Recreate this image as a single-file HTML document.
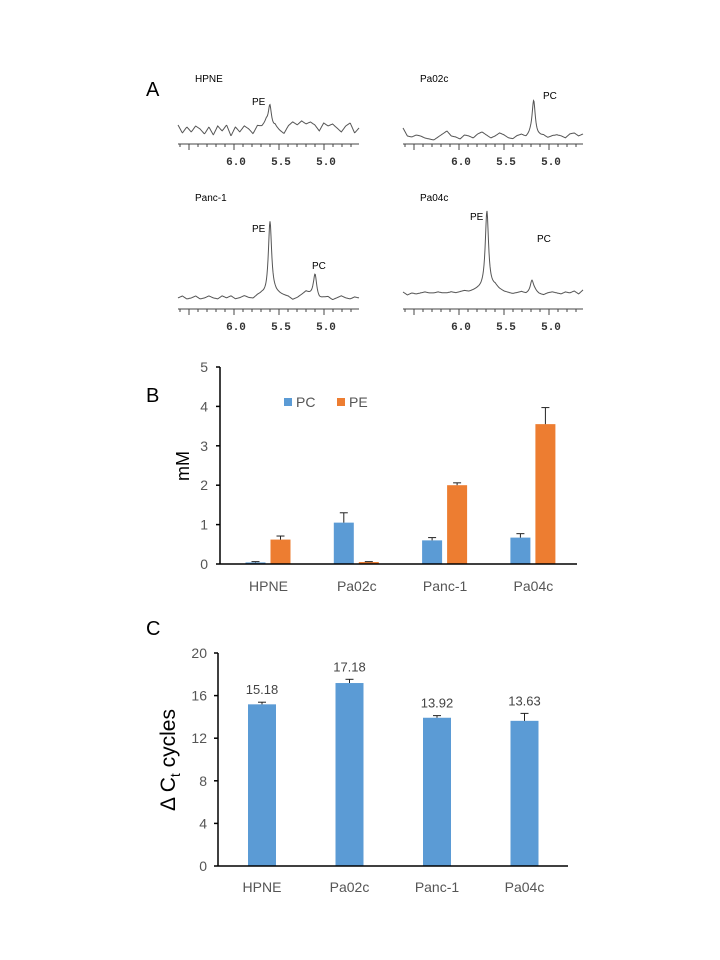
<!DOCTYPE html>
<html><head><meta charset="utf-8">
<style>
html,body{margin:0;padding:0;background:#fff;}
svg{display:block;font-family:"Liberation Sans",sans-serif;}
</style></head>
<body>
<svg id="fig" width="720" height="960" viewBox="0 0 720 960">
<g id="panelA"></g>
<g id="panelB"></g>
<g id="panelC"></g>
</svg>
<script>
const NS="http://www.w3.org/2000/svg";
function mk(parent,tag,attrs,text){const e=document.createElementNS(NS,tag);for(const k in attrs)e.setAttribute(k,attrs[k]);if(text!==undefined)e.textContent=text;parent.appendChild(e);return e;}

/* ---------- Panel A data ---------- */
const specNames=["HPNE","Pa02c","Panc-1","Pa04c"];
const specPeakPpm=[[5.6],[5.17],[5.6,5.1],[5.69,5.19]];
const specPeakHeight=[[26],[38],[74,24],[80,12]];
const specPeakLabels=[["PE"],["PC"],["PE","PC"],["PE","PC"]];
const specNoise=[
 [4,-4,2,-3,3,0,-5,2,-6,3,-2,4,-7,2,-3,3,0,-5,3,2,6,-3,2,-2,-5,3,7,4,8,5,7,4,-2,6,3,5,1,-3,3,6,-4,1],
 [8,0,-1,1,0,-2,-3,-4,-1,2,5,0,-1,-3,1,0,-2,2,4,1,-2,0,3,1,-2,-3,0,1,-2,0,-3,-1,0,-2,0,1,0,-2,2,3,0,2],
 [0,2,-1,0,2,-1,0,2,0,-1,2,0,2,-1,0,2,0,-1,2,3,1,3,4,3,2,1,-2,0,3,6,3,0,-2,0,1,-2,0,2,0,-1,1,0],
 [1,-2,0,-1,0,1,0,0,1,0,0,1,0,1,2,1,2,3,3,2,4,6,3,1,0,-1,0,1,-1,0,2,-1,-2,0,1,0,-1,1,0,2,-1,3]
];

/* ---------- Panel B data ---------- */
const bCategories=["HPNE","Pa02c","Panc-1","Pa04c"];
const bPC=[0.04,1.05,0.6,0.67];
const bPCerr=[0.02,0.25,0.07,0.1];
const bPE=[0.62,0.05,2.0,3.55];
const bPEerr=[0.09,0.01,0.06,0.42];
const bTicks=[0,1,2,3,4,5];

/* ---------- Panel C data ---------- */
const cCategories=["HPNE","Pa02c","Panc-1","Pa04c"];
const cValues=[15.18,17.18,13.92,13.63];
const cErr=[0.2,0.35,0.2,0.7];
const cValueLabels=["15.18","17.18","13.92","13.63"];
const cTicks=[0,4,8,12,16,20];

/* ---------- draw A ---------- */
const A=document.getElementById('panelA');
const lA=mk(A,'text',{x:146,y:96,'font-size':20,fill:'#000'},'A');


const specGeom=[
 {x0:178,x1:359,six:234,axisY:144,base:129,tx:195,ty:82},
 {x0:403,x1:583,six:459,axisY:144,base:136,tx:420,ty:82},
 {x0:178,x1:359,six:234,axisY:309,base:298,tx:195,ty:201},
 {x0:403,x1:583,six:459,axisY:309,base:293,tx:420,ty:201}
];
const peakLabelPos=[[[252,105]],[[543,99]],[[252,232],[312,269]],[[470,220],[537,242]]];
specNames.forEach((nm,s)=>{
  const g=specGeom[s];
  const grp=mk(A,'g',{});
  
  
  const t=mk(grp,'text',{x:g.tx,y:g.ty,'font-size':10,fill:'#000'},nm);
  
  
  const px=p=>g.six+(6.0-p)*90;
  const pToX=x=>6.0-(x-g.six)/90;
  const noise=specNoise[s];
  let d="";
  const N=360;
  for(let i=0;i<=N;i++){
    const x=g.x0+(g.x1-g.x0)*i/N;
    const p=pToX(x);
    const f=(noise.length-1)*i/N;const k=Math.floor(f);const fr=f-k;
    const nz=noise[k]*(1-fr)+(noise[Math.min(k+1,noise.length-1)])*fr;
    let y=g.base-nz;
    specPeakPpm[s].forEach((pp,j)=>{const w=0.022;y-=specPeakHeight[s][j]*w*w/((p-pp)*(p-pp)+w*w);});
    d+=(i?"L":"M")+x.toFixed(1)+" "+y.toFixed(1);
  }
  const tr=mk(grp,'path',{d:d,fill:'none',stroke:'#555','stroke-width':1});
  
  
  specPeakPpm[s].forEach((pp,j)=>{
    const pos=peakLabelPos[s][j];
    const pl=mk(grp,'text',{x:pos[0],y:pos[1],'font-size':10,fill:'#000'},specPeakLabels[s][j]);
    
    
  });
  const ax=mk(grp,'line',{x1:g.x0,x2:g.x1,y1:g.axisY,y2:g.axisY,stroke:'#444','stroke-width':1});
  
  
  for(let p=6.6;p>=4.7;p-=0.1){
    const x=px(p);if(x<g.x0||x>g.x1)continue;
    const major=Math.abs(p*2-Math.round(p*2))<0.01;
    mk(grp,'line',{x1:x,x2:x,y1:g.axisY,y2:g.axisY+(major?6:3),stroke:'#444','stroke-width':1});
  }
  ["6.0","5.5","5.0"].forEach(lbl=>{
    const tl=mk(grp,'text',{x:px(parseFloat(lbl))+2,y:g.axisY+21,'font-size':11,'font-weight':'bold','font-family':'Liberation Mono, monospace','text-anchor':'middle',fill:'#333'},lbl);
    
    
  });
});

/* ---------- draw B ---------- */
const B=document.getElementById('panelB');
const bx0=220,bx1=577,by0=564,byTop=367,bMax=5;
const byS=v=>by0-(by0-byTop)*v/bMax;
const bCat=i=>268.5+88.3*i;
const lB=mk(B,'text',{x:146,y:402,'font-size':20,fill:'#000'},'B');


bTicks.forEach(v=>{
  mk(B,'line',{x1:bx0-4,x2:bx0,y1:byS(v),y2:byS(v),stroke:'#000','stroke-width':1.5});
  const t=mk(B,'text',{x:bx0-12,y:byS(v)+5,'font-size':14,'text-anchor':'end',fill:'#555'},v);
  
  
});
const bYt=mk(B,'text',{x:0,y:0,'font-size':18,'text-anchor':'middle',fill:'#000',transform:'translate(189,466) rotate(-90)'},'mM');


function bar(parent,x,w,v,e,scale,base,color,name){
  const r=mk(parent,'rect',{x:x,y:scale(v),width:w,height:base-scale(v),fill:color});
  
  
  const cx=x+w/2;
  mk(parent,'line',{x1:cx,x2:cx,y1:scale(v),y2:scale(v+e),stroke:'#222','stroke-width':1});
  mk(parent,'line',{x1:cx-4,x2:cx+4,y1:scale(v+e),y2:scale(v+e),stroke:'#222','stroke-width':1});
}
bCategories.forEach((c,i)=>{
  bar(B,bCat(i)-23,20,bPC[i],bPCerr[i],byS,by0,'#5b9bd5','bar-pc-'+c.toLowerCase());
  bar(B,bCat(i)+2,20,bPE[i],bPEerr[i],byS,by0,'#ed7d31','bar-pe-'+c.toLowerCase());
  const t=mk(B,'text',{x:bCat(i),y:591,'font-size':14,'text-anchor':'middle',fill:'#555'},c);
  
  
});
const bAxY=mk(B,'line',{x1:bx0,x2:bx0,y1:byTop,y2:by0,stroke:'#000','stroke-width':1.5});


const bAxX=mk(B,'line',{x1:bx0,x2:bx1,y1:by0,y2:by0,stroke:'#000','stroke-width':1.5});


const leg=mk(B,'g',{});


const le1=mk(leg,'g',{});


mk(le1,'rect',{x:284,y:398,width:8,height:8,fill:'#5b9bd5'});
mk(le1,'text',{x:296,y:407,'font-size':14,fill:'#555'},'PC');
const le2=mk(leg,'g',{});


mk(le2,'rect',{x:337,y:398,width:8,height:8,fill:'#ed7d31'});
mk(le2,'text',{x:349,y:407,'font-size':14,fill:'#555'},'PE');

/* ---------- draw C ---------- */
const C=document.getElementById('panelC');
const cx0=218,cx1=568,cy0=866,cyTop=653,cMax=20;
const cyS=v=>cy0-(cy0-cyTop)*v/cMax;
const cCat=i=>262+87.5*i;
const lC=mk(C,'text',{x:146,y:635,'font-size':20,fill:'#000'},'C');


cTicks.forEach(v=>{
  mk(C,'line',{x1:cx0-4,x2:cx0,y1:cyS(v),y2:cyS(v),stroke:'#000','stroke-width':1.5});
  const t=mk(C,'text',{x:cx0-11,y:cyS(v)+5,'font-size':14,'text-anchor':'end',fill:'#555'},v);
  
  
});
const cYt=mk(C,'text',{x:0,y:0,'font-size':21,'text-anchor':'middle',fill:'#000',transform:'translate(175,760) rotate(-90)'});


cYt.innerHTML='Δ C<tspan font-size="14" dy="5">t</tspan><tspan dy="-5"> cycles</tspan>';
cCategories.forEach((c,i)=>{
  bar(C,cCat(i)-14,28,cValues[i],cErr[i],cyS,cy0,'#5b9bd5','bar-'+c.toLowerCase());
  const vl=mk(C,'text',{x:cCat(i),y:cyS(cValues[i]+cErr[i])-8,'font-size':13,'text-anchor':'middle',fill:'#444'},cValueLabels[i]);
  
  
  const t=mk(C,'text',{x:cCat(i),y:892,'font-size':14,'text-anchor':'middle',fill:'#555'},c);
  
  
});
const cAxY=mk(C,'line',{x1:cx0,x2:cx0,y1:cyTop,y2:cy0,stroke:'#000','stroke-width':1.5});


const cAxX=mk(C,'line',{x1:cx0,x2:cx1,y1:cy0,y2:cy0,stroke:'#000','stroke-width':1.5});


</script>
</body></html>
